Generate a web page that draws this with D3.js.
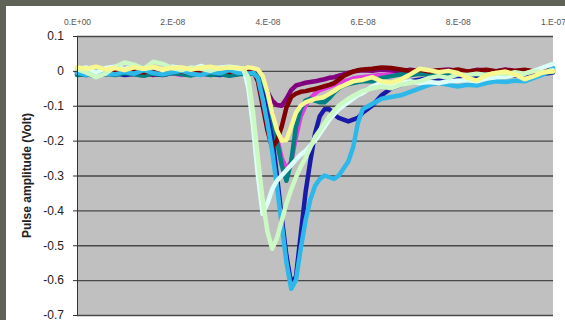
<!DOCTYPE html>
<html>
<head>
<meta charset="utf-8">
<script src="https://cdn.jsdelivr.net/npm/d3@7"></script>
<style>
  html, body { margin: 0; padding: 0; background: #5f6256; }
  svg { display: block; }
  .axis text { font-family: "Liberation Sans", Arial, sans-serif; }
</style>
</head>
<body>
<div id="chart"></div>
<script>
// time in ns (axis labels are in seconds)
const times = [0,2,4,6,8,10,12,14,16,18,20,22,24,26,28,30,32,34,
  35,36,37,38,39,40,41,42,43,44,45,46,47,48,49,50,51,52,53,54,55,56,57,58,59,60,
  62,64,66,68,70,72,74,76,78,80,82,84,86,88,90,92,94,96,98,100];

const navy = [-0.01,-0.012,-0.008,-0.01,-0.006,-0.012,-0.009,-0.004,-0.01,-0.012,-0.006,-0.008,-0.011,-0.005,-0.009,-0.012,-0.007,-0.008,
  -0.006,-0.008,-0.005,-0.01,-0.03,-0.09,-0.19,-0.30,-0.42,-0.53,-0.61,-0.59,-0.47,-0.35,-0.26,-0.18,-0.13,-0.11,-0.11,-0.125,-0.135,-0.14,-0.145,-0.14,-0.135,-0.12,
  -0.10,-0.07,-0.05,-0.04,-0.03,-0.025,-0.02,-0.025,-0.02,-0.015,-0.02,-0.018,-0.012,-0.015,-0.01,-0.014,-0.01,-0.012,-0.008,-0.005];

const magenta = [-0.005,-0.008,-0.012,-0.006,-0.01,-0.004,-0.009,-0.013,-0.006,-0.01,-0.007,-0.012,-0.005,-0.009,-0.011,-0.006,-0.013,-0.008,
  -0.006,-0.009,-0.005,-0.008,-0.02,-0.06,-0.12,-0.19,-0.25,-0.28,-0.26,-0.19,-0.13,-0.1,-0.08,-0.065,-0.055,-0.05,-0.045,-0.04,-0.035,-0.03,-0.027,-0.022,-0.02,-0.018,
  -0.015,-0.012,-0.01,-0.008,-0.01,-0.006,-0.009,-0.004,-0.008,-0.006,-0.01,-0.005,-0.008,-0.004,-0.007,-0.003,-0.006,-0.002,-0.004,0.0];

const purple = [-0.004,-0.006,0.0,-0.008,-0.003,-0.002,0.004,-0.006,-0.012,-0.005,-0.003,0.002,-0.01,-0.004,-0.006,0.0,-0.008,-0.004,
  -0.002,0.004,0.006,-0.005,-0.03,-0.06,-0.085,-0.098,-0.1,-0.08,-0.055,-0.042,-0.038,-0.034,-0.032,-0.03,-0.027,-0.024,-0.02,-0.018,-0.014,-0.01,-0.006,-0.002,0.0,0.002,
  0.0,0.004,0.002,-0.002,0.003,0.0,-0.004,0.002,0.004,0.0,-0.003,0.003,0.001,-0.002,0.004,0.0,0.002,-0.002,0.003,0.004];

const darkRed = [-0.003,0.002,-0.004,0.0,-0.006,0.003,-0.002,-0.005,0.001,-0.003,0.004,-0.002,-0.006,0.0,-0.004,0.002,-0.003,0.0,
  0.003,0.001,0.0,-0.03,-0.1,-0.17,-0.22,-0.2,-0.16,-0.105,-0.075,-0.065,-0.06,-0.058,-0.055,-0.052,-0.048,-0.044,-0.04,-0.035,-0.025,-0.015,-0.008,-0.002,0.002,0.004,
  0.006,0.01,0.008,0.004,0.0,0.003,-0.002,0.002,0.0,0.004,-0.002,0.001,0.003,-0.001,0.002,0.0,0.003,-0.002,0.001,0.002];

const teal = [-0.012,-0.01,-0.015,-0.008,-0.012,-0.006,-0.01,-0.014,-0.008,-0.011,-0.006,-0.01,-0.013,-0.007,-0.012,-0.009,-0.014,-0.01,
  -0.008,-0.01,-0.006,-0.012,-0.025,-0.065,-0.13,-0.2,-0.27,-0.315,-0.26,-0.16,-0.11,-0.085,-0.08,-0.085,-0.09,-0.09,-0.078,-0.062,-0.05,-0.042,-0.038,-0.035,-0.032,-0.03,
  -0.03,-0.02,-0.015,-0.01,-0.012,-0.008,-0.01,-0.005,-0.008,-0.004,-0.007,-0.01,-0.006,-0.004,-0.008,-0.003,-0.006,-0.002,-0.005,-0.003];

const sky = [-0.005,-0.012,0.004,-0.008,-0.01,-0.003,-0.008,0.002,-0.006,-0.01,-0.004,0.0,-0.008,-0.012,-0.003,-0.007,0.002,-0.006,
  -0.004,-0.008,-0.005,-0.02,-0.08,-0.15,-0.23,-0.33,-0.44,-0.55,-0.625,-0.6,-0.51,-0.43,-0.37,-0.33,-0.31,-0.3,-0.305,-0.31,-0.3,-0.28,-0.26,-0.22,-0.15,-0.11,
  -0.095,-0.08,-0.075,-0.07,-0.06,-0.05,-0.04,-0.035,-0.04,-0.045,-0.04,-0.042,-0.035,-0.03,-0.032,-0.028,-0.03,-0.02,-0.01,0.008];

const paleCyan = [0.005,0.01,-0.005,0.008,0.012,0.004,0.015,0.006,0.01,0.002,0.012,0.008,0.004,0.014,0.006,0.01,0.012,0.008,
  0.006,-0.05,-0.16,-0.3,-0.41,-0.38,-0.34,-0.315,-0.3,-0.285,-0.27,-0.255,-0.24,-0.23,-0.215,-0.2,-0.18,-0.16,-0.14,-0.125,-0.11,-0.1,-0.09,-0.08,-0.07,-0.064,
  -0.045,-0.035,-0.04,-0.035,-0.03,-0.035,-0.032,-0.035,-0.03,-0.028,-0.026,-0.03,-0.022,-0.018,-0.017,-0.012,-0.008,0.0,0.01,0.02];

const paleGreen = [0.005,-0.005,-0.018,-0.008,0.012,0.024,0.018,0.006,0.026,0.02,0.008,0.002,0.01,0.006,0.0,0.008,0.01,0.006,
  0.004,-0.02,-0.12,-0.25,-0.37,-0.46,-0.51,-0.48,-0.43,-0.38,-0.34,-0.305,-0.275,-0.25,-0.22,-0.19,-0.17,-0.15,-0.13,-0.115,-0.1,-0.09,-0.08,-0.072,-0.065,-0.058,
  -0.05,-0.045,-0.05,-0.04,-0.035,-0.03,-0.02,-0.015,-0.02,-0.01,-0.012,-0.008,-0.012,-0.006,-0.01,-0.004,-0.008,0.0,-0.004,0.002];

const yellow = [0.01,0.006,0.012,0.004,0.008,0.002,0.01,0.006,0.012,0.004,0.008,0.01,0.004,0.009,0.012,0.006,0.01,0.008,
  0.006,0.01,0.008,0.004,-0.015,-0.06,-0.12,-0.17,-0.2,-0.198,-0.16,-0.12,-0.1,-0.09,-0.085,-0.08,-0.078,-0.074,-0.066,-0.058,-0.048,-0.042,-0.036,-0.03,-0.028,-0.026,
  -0.018,-0.03,-0.034,-0.025,-0.01,0.006,0.002,-0.004,0.0,-0.006,-0.02,-0.028,-0.012,-0.006,-0.002,-0.01,-0.024,-0.015,-0.004,-0.002];

const seriesNames = ["navy", "magenta", "purple", "teal", "darkRed", "sky", "paleCyan", "paleGreen", "yellow"];
const seriesValues = [navy, magenta, purple, teal, darkRed, sky, paleCyan, paleGreen, yellow];
const seriesColors = ["#1a1aa8", "#e03ce0", "#800080", "#008080", "#800000", "#2eb8ea", "#dcfff8", "#ccf8c4", "#f8f890"];

const xTicks = [0, 20, 40, 60, 80, 100];
const xTickLabels = ["0.E+00", "2.E-08", "4.E-08", "6.E-08", "8.E-08", "1.E-07"];
const yTicks = [0.1, 0, -0.1, -0.2, -0.3, -0.4, -0.5, -0.6, -0.7];
const yTickLabels = ["0.1", "0", "-0.1", "-0.2", "-0.3", "-0.4", "-0.5", "-0.6", "-0.7"];

const W = 565, H = 320;
const plot = {left: 77, right: 553, top: 36, bottom: 315};

const svg = d3.select("#chart").append("svg")
  .attr("width", W)
  .attr("height", H);

// white panel on the grey frame
svg.append("rect")
  .attr("x", 6).attr("y", 6)
  .attr("width", W - 6).attr("height", H - 6)
  .attr("fill", "#ffffff");

const x = d3.scaleLinear().domain([0, 100]).range([plot.left, plot.right]);
const y = d3.scaleLinear().domain([-0.7, 0.1]).range([plot.bottom, plot.top]);

svg.append("rect")
  .attr("x", plot.left).attr("y", plot.top)
  .attr("width", plot.right - plot.left).attr("height", plot.bottom - plot.top)
  .attr("fill", "#c0c0c0");

// gridlines
const grid = svg.append("g")
  .attr("transform", `translate(${plot.left},0)`)
  .call(d3.axisLeft(y).tickValues(yTicks).tickSize(-(plot.right - plot.left)).tickFormat(""));
grid.select(".domain").remove();
grid.selectAll("line").attr("stroke", "#484848").attr("stroke-width", 1.3);

// traces
const line = d3.line()
  .x((d, i) => x(times[i]))
  .y(d => y(d));

svg.append("g")
  .selectAll("path")
  .data(seriesValues)
  .enter()
  .append("path")
    .attr("d", line)
    .attr("fill", "none")
    .attr("stroke", (d, i) => seriesColors[i])
    .attr("stroke-width", 4.5)
    .attr("stroke-linejoin", "round")
    .attr("stroke-linecap", "round");

// y axis
const yAxis = svg.append("g")
  .attr("class", "axis")
  .attr("transform", `translate(${plot.left},0)`)
  .call(d3.axisLeft(y).tickValues(yTicks).tickSizeInner(4).tickSizeOuter(0).tickPadding(9)
    .tickFormat((d, i) => yTickLabels[i]));
yAxis.select(".domain").attr("stroke", "#333");
yAxis.selectAll("line").attr("stroke", "#333");
yAxis.selectAll("text")
  .style("font-size", "12px")
  .attr("fill", "#222");

// x axis labels along the top
const xAxis = svg.append("g")
  .attr("class", "axis")
  .attr("transform", `translate(0,${plot.top})`)
  .call(d3.axisTop(x).tickValues(xTicks).tickSize(0).tickPadding(11)
    .tickFormat((d, i) => xTickLabels[i]));
xAxis.select(".domain").remove();
xAxis.selectAll("text")
  .style("font-size", "8.5px")
  .attr("fill", "#555");

svg.append("text")
  .attr("class", "axis")
  .attr("transform", `translate(31,${(plot.top + plot.bottom) / 2}) rotate(-90)`)
  .attr("text-anchor", "middle")
  .style("font-family", "'Liberation Sans', Arial, sans-serif")
  .style("font-size", "12px")
  .style("font-weight", "bold")
  .attr("fill", "#222")
  .text("Pulse amplitude (Volt)");
</script>
</body>
</html>
